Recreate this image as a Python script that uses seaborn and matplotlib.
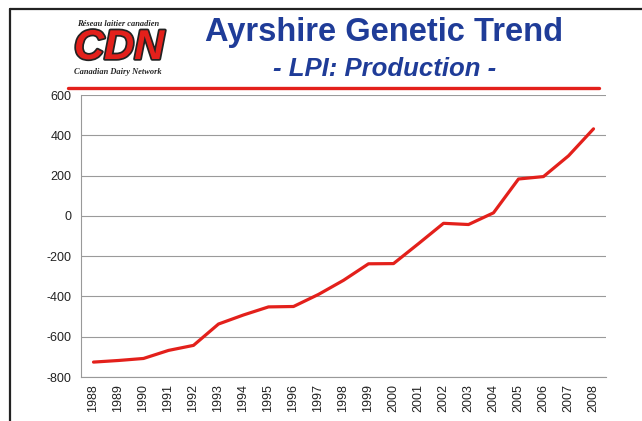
import numpy as np
import pandas as pd
import matplotlib
matplotlib.use("Agg")
import matplotlib.pyplot as plt
import matplotlib.patheffects as pe
from matplotlib.lines import Line2D
import seaborn as sns

years = list(range(1988, 2009))
lpi_production = [-726, -718, -708, -668, -643, -537, -492, -452, -450, -390,
                  -320, -238, -237, -138, -37, -43, 15, 183, 195, 298, 432]

trend = pd.DataFrame({"Year": years, "LPI": lpi_production})

sns.set_style("white")
plt.rcParams["font.family"] = ["Liberation Sans", "DejaVu Sans"]
plt.rcParams["axes.unicode_minus"] = False

fig = plt.figure(figsize=(6.42, 4.21), dpi=100)
ax = fig.add_axes([81 / 642, 44 / 421, 525 / 642, 282 / 421])

sns.lineplot(data=trend, x="Year", y="LPI", ax=ax, color="#e3201b", linewidth=2.3)

ax.set_xlim(1987.5, 2008.5)
ax.set_ylim(-800, 600)
ax.set_yticks(range(-800, 601, 200))
ax.set_xticks(years)
ax.set_xticklabels([str(y) for y in years], rotation=90)
ax.set_xticks(np.arange(1987.5, 2009, 1), minor=True)
ax.tick_params(axis="x", which="major", length=0, pad=5, labelsize=9, colors="#222222")
ax.tick_params(axis="x", which="minor", length=4, color="#999999", direction="out")
ax.tick_params(axis="y", length=4, color="#999999", direction="out", labelsize=9,
               colors="#222222", pad=3)
ax.yaxis.grid(True, color="#9a9a9a", linewidth=0.8)
ax.set_xlabel("")
ax.set_ylabel("")
for side in ["top", "right"]:
    ax.spines[side].set_visible(False)
for side in ["left", "bottom"]:
    ax.spines[side].set_color("#999999")
    ax.spines[side].set_linewidth(0.8)

# titles
fig.text(384 / 642, 1 - 33 / 421, "Ayrshire Genetic Trend", ha="center", va="center",
         fontsize=23.5, fontweight="bold", color="#1f3c98")
fig.text(385 / 642, 1 - 69 / 421, "- LPI: Production -", ha="center", va="center",
         fontsize=18.5, fontweight="bold", fontstyle="italic", color="#1f3c98")

# logo stand-in
fig.text(118 / 642, 1 - 24 / 421, "Réseau laitier canadien", ha="center", va="center",
         fontsize=6, fontstyle="italic", fontweight="bold", family="Liberation Serif")
fig.text(119 / 642, 1 - 48 / 421, "CDN", ha="center", va="center", fontsize=30,
         fontweight="bold", fontstyle="italic", color="#e3201b",
         path_effects=[pe.withStroke(linewidth=2.5, foreground="#222222")])
fig.text(118 / 642, 1 - 72 / 421, "Canadian Dairy Network", ha="center", va="center",
         fontsize=6, fontstyle="italic", fontweight="bold", family="Liberation Serif")

# red header rule
fig.add_artist(Line2D([68 / 642, 599 / 642], [1 - 88 / 421, 1 - 88 / 421],
                      color="#e3201b", linewidth=2.4, transform=fig.transFigure))

# slide frame
fig.add_artist(Line2D([10 / 642, 1], [1 - 9 / 421, 1 - 9 / 421],
                      color="#222222", linewidth=1.6, transform=fig.transFigure))
fig.add_artist(Line2D([10 / 642, 10 / 642], [0, 1 - 9 / 421],
                      color="#222222", linewidth=1.6, transform=fig.transFigure))

fig.savefig("out.png", dpi=100)
